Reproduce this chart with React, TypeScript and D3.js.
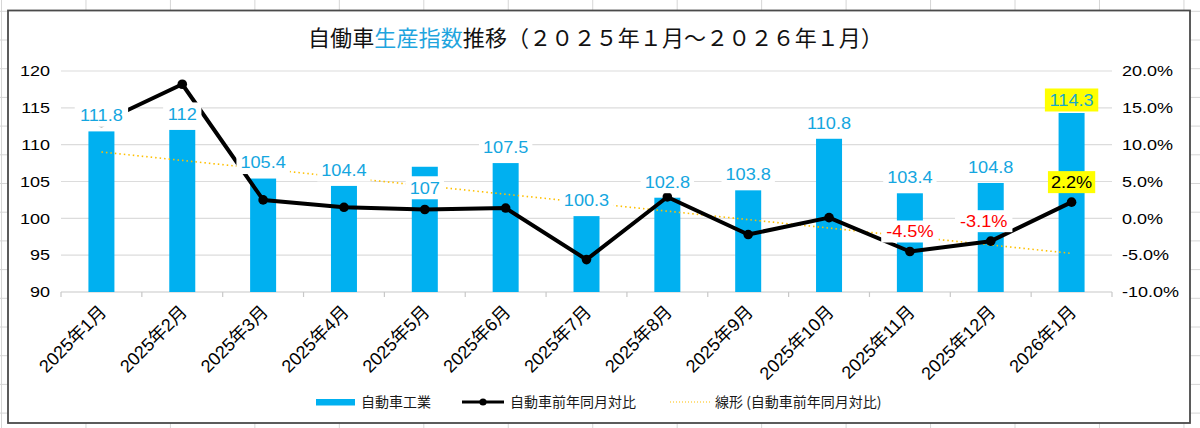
import React from "react";
import * as d3 from "d3";

const categories = [
  "2025年1月", "2025年2月", "2025年3月", "2025年4月", "2025年5月", "2025年6月",
  "2025年7月", "2025年8月", "2025年9月", "2025年10月", "2025年11月", "2025年12月", "2026年1月",
];
const indexValues = [111.8, 112, 105.4, 104.4, 107, 107.5, 100.3, 102.8, 103.8, 110.8, 103.4, 104.8, 114.3];
const yoyValues = [13.0, 18.2, 2.5, 1.5, 1.2, 1.4, -5.6, 2.9, -2.2, 0.1, -4.5, -3.1, 2.2];
const leftTicks = [90, 95, 100, 105, 110, 115, 120];
const rightTicks = [-10, -5, 0, 5, 10, 15, 20];
const yoyLabelShown = [false, false, false, false, false, false, false, false, false, false, true, true, true];

// label styling (not data)
const barLabelDy = [0, 0, 0, 0, 37, 0, 0, 0, 0, 0, 0, 0, 3];
const yoyLabelDx = [0, 0, 0, 0, 0, 0, 0, 0, 0, 0, 0, -7, 0];

const W = 1200;
const H = 428;
const BLUE = "#00B0F0";
const LATIN = "'Liberation Sans', Arial, 'Noto Sans CJK JP', sans-serif";
const CJK = "'Noto Sans CJK JP', 'Noto Sans', sans-serif";

function SText(props: {
  x: number; y: number; sx?: number; anchor?: string; size: number; fill?: string;
  children: React.ReactNode; rotate?: number; family?: string;
}) {
  const { x, y, sx = 1, anchor = "middle", size, fill = "#000", children, rotate, family = LATIN } = props;
  const tr = `translate(${x},${y}) scale(${sx},1)` + (rotate ? ` rotate(${rotate})` : "");
  return (
    <text transform={tr} textAnchor={anchor} fontSize={size} fill={fill} fontFamily={family}>
      {children}
    </text>
  );
}

export default function App() {
  const x = d3.scaleBand<string>().domain(categories).range([61, 1112]).padding(0);
  const yL = d3.scaleLinear().domain([90, 120]).range([292, 71]);
  const yR = d3.scaleLinear().domain([-10, 20]).range([292, 71]);
  const cx = (i: number) => (x(categories[i]) as number) + x.bandwidth() / 2;
  const barW = 26;

  // linear trend (least squares) of yoy
  const n = yoyValues.length;
  const xs = d3.range(1, n + 1);
  const mx = d3.mean(xs) as number;
  const my = d3.mean(yoyValues) as number;
  const sxy = d3.sum(xs.map((xv, i) => (xv - mx) * (yoyValues[i] - my)));
  const sxx = d3.sum(xs.map((xv) => (xv - mx) ** 2));
  const slope = sxy / sxx;
  const icpt = my - slope * mx;
  const trendPts: [number, number][] = [
    [cx(0), yR(icpt + slope * 1)],
    [cx(n - 1), yR(icpt + slope * n)],
  ];

  const line = d3.line<number>().x((_, i) => cx(i)).y((v) => yR(v));

  // excel grid
  const cols = d3.range(0, 16).map((k) => 1.5 + 84.46 * k);
  const rows = d3.range(0, 16).map((k) => 11.3 + 28.7 * k);

  const boundaries = d3.range(0, n + 1).map((i) => 61 + i * x.bandwidth());

  const labelSize = 16.5;
  const labelSx = 1.1;
  const textW = (s: string) => s.length * labelSize * 0.556 * labelSx - (s.includes(".") ? labelSize * 0.28 * labelSx : 0) + (s.includes("%") ? labelSize * 0.33 * labelSx : 0);

  return (
    <svg width={W} height={H} style={{ position: "absolute", left: 0, top: 0, background: "#fff" }}>
      {/* spreadsheet grid */}
      {cols.map((c, i) => (
        <line key={"c" + i} x1={c} x2={c} y1={0} y2={H} stroke="#D6D6D6" strokeWidth={1} />
      ))}
      {rows.map((r, i) => (
        <line key={"r" + i} x1={0} x2={W} y1={r} y2={r} stroke="#D6D6D6" strokeWidth={1} />
      ))}
      {/* chart area */}
      <rect x={8} y={10.5} width={1182} height={412.5} fill="#fff" stroke="#4A4A4A" strokeWidth={1.8} />

      {/* title */}
      <text x={308} y={46} fontSize={22} fontFamily={CJK} fill="#111" textLength={575} lengthAdjust="spacing">
        自働車<tspan fill="#1FA5DE">生産指数</tspan>推移（２０２５年１月～２０２６年１月）
      </text>

      {/* gridlines */}
      {leftTicks.map((t) => (
        <line key={"g" + t} x1={61} x2={1112} y1={yL(t)} y2={yL(t)} stroke={t === 90 ? "#C8C8C8" : "#DCDCDC"} strokeWidth={1.2} />
      ))}
      {boundaries.map((b, i) => (
        <line key={"t" + i} x1={b} x2={b} y1={292} y2={297} stroke="#C8C8C8" strokeWidth={1.2} />
      ))}

      {/* left axis labels */}
      {leftTicks.map((t) => (
        <SText key={"l" + t} x={50} y={yL(t) + 5.3} sx={1.2} anchor="end" size={15}>
          {String(t)}
        </SText>
      ))}
      {/* right axis labels */}
      {rightTicks.map((t) => (
        <SText key={"rr" + t} x={1122} y={yR(t) + 5.3} sx={1.2} anchor="start" size={15}>
          {t.toFixed(1) + "%"}
        </SText>
      ))}

      {/* x labels */}
      {categories.map((c, i) => (
        <SText key={"x" + i} x={cx(i) + 6} y={313} anchor="end" size={18} rotate={-45}>
          {c}
        </SText>
      ))}

      {/* bars */}
      {indexValues.map((v, i) => (
        <rect key={"b" + i} x={cx(i) - barW / 2} y={yL(v)} width={barW} height={yL(90) - yL(v)} fill={BLUE} />
      ))}

      {/* trend */}
      <path d={d3.line()(trendPts) as string} stroke="#FFC000" strokeWidth={1.6} strokeDasharray="1.5,3" fill="none" />

      {/* yoy line */}
      <path d={line(yoyValues) as string} stroke="#000" strokeWidth={4} fill="none" strokeLinejoin="round" />
      {yoyValues.map((v, i) => (
        <circle key={"p" + i} cx={cx(i)} cy={yR(v)} r={4.8} fill="#000" />
      ))}

      {/* bar labels */}
      {indexValues.map((v, i) => {
        const s = String(v);
        const cy = yL(v) - 16 + barLabelDy[i];
        const w = textW(s) + 8;
        const last = i === n - 1;
        return (
          <g key={"bl" + i}>
            <rect x={cx(i) - w / 2} y={cy - 11.5} width={w} height={23} fill={last ? "#FFFF00" : "#fff"} />
            <SText x={cx(i)} y={cy + 5.8} sx={labelSx} size={labelSize} fill={last ? "#1AA8C9" : "#14A6E0"}>
              {s}
            </SText>
          </g>
        );
      })}

      {/* yoy labels */}
      {yoyValues.map((v, i) => {
        if (!yoyLabelShown[i]) return null;
        const s = v.toFixed(1) + "%";
        const cy = yR(v) - 20;
        const lx = cx(i) + yoyLabelDx[i];
        const w = textW(s) + 6;
        const pos = v > 0;
        return (
          <g key={"yl" + i}>
            <rect x={lx - w / 2} y={cy - 11} width={w} height={22} fill={pos ? "#FFFF00" : "#fff"} />
            <SText x={lx} y={cy + 5.8} sx={labelSx} size={labelSize} fill={pos ? "#000" : "#FF0000"}>
              {s}
            </SText>
          </g>
        );
      })}

      {/* legend */}
      <rect x={316} y={399} width={39} height={6.5} fill={BLUE} />
      <text x={361} y={407} fontSize={14} fontFamily={CJK} fill="#1a1a1a">自動車工業</text>
      <line x1={462} x2={504} y1={402} y2={402} stroke="#000" strokeWidth={3} />
      <circle cx={483} cy={402} r={3.6} fill="#000" />
      <text x={510} y={407} fontSize={14} fontFamily={CJK} fill="#1a1a1a">自動車前年同月対比</text>
      <line x1={670} x2={710} y1={402} y2={402} stroke="#FFC000" strokeWidth={1.2} strokeDasharray="1,2" />
      <text x={715} y={407} fontSize={14} fontFamily={CJK} fill="#1a1a1a">線形 (自動車前年同月対比)</text>
    </svg>
  );
}
